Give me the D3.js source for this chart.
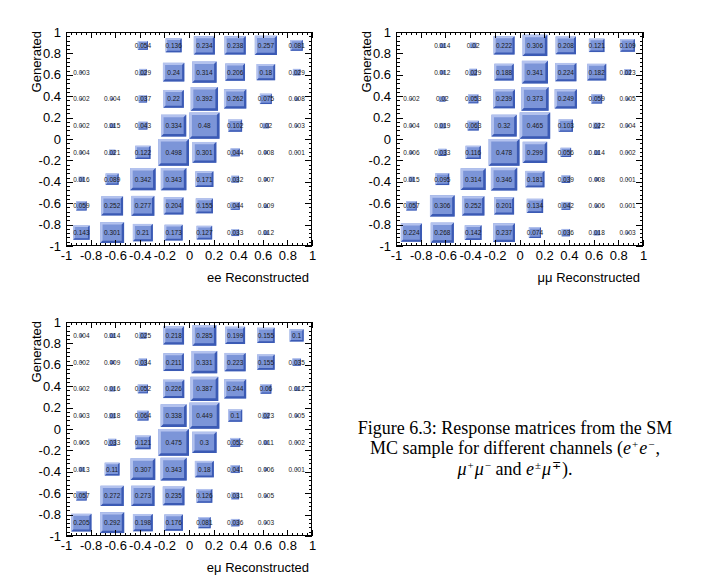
<!DOCTYPE html>
<html><head><meta charset="utf-8">
<script src="https://cdn.jsdelivr.net/npm/d3@7"></script>
<style>
body{margin:0;background:#fff;}
svg{display:block;}
</style></head>
<body>
<svg id="chart" width="717" height="584"></svg>
<script>
// Bin edges (both axes) and tick labels
const binEdges = [-1, -0.75, -0.5, -0.25, 0, 0.25, 0.5, 0.75, 1];
const majorTicks = [-1, -0.8, -0.6, -0.4, -0.2, 0, 0.2, 0.4, 0.6, 0.8, 1];
const tickLabels = ["-1", "-0.8", "-0.6", "-0.4", "-0.2", "0", "0.2", "0.4", "0.6", "0.8", "1"];
const channels = ["ee", "\u03bc\u03bc", "e\u03bc"];

// Rows: generated bin from top (0.75..1) to bottom (-1..-0.75); columns: reconstructed bins left to right
const eeValues = [
  [null, null, 0.054, 0.136, 0.234, 0.238, 0.257, 0.081],
  [0.003, null, 0.029, 0.24, 0.314, 0.206, 0.18, 0.029],
  [0.002, 0.004, 0.037, 0.22, 0.392, 0.262, 0.075, 0.008],
  [0.002, 0.015, 0.043, 0.334, 0.48, 0.102, 0.02, 0.003],
  [0.004, 0.021, 0.122, 0.498, 0.301, 0.044, 0.008, 0.001],
  [0.016, 0.089, 0.342, 0.343, 0.171, 0.032, 0.007, null],
  [0.059, 0.252, 0.277, 0.204, 0.155, 0.044, 0.009, null],
  [0.143, 0.301, 0.21, 0.173, 0.127, 0.033, 0.012, null]
];
const mumuValues = [
  [null, 0.014, 0.02, 0.222, 0.306, 0.208, 0.121, 0.109],
  [null, 0.012, 0.029, 0.188, 0.341, 0.224, 0.182, 0.023],
  [0.002, 0.02, 0.053, 0.239, 0.373, 0.249, 0.059, 0.005],
  [0.004, 0.019, 0.063, 0.32, 0.465, 0.103, 0.022, 0.004],
  [0.006, 0.033, 0.116, 0.478, 0.299, 0.056, 0.014, 0.002],
  [0.015, 0.095, 0.314, 0.346, 0.181, 0.039, 0.008, 0.001],
  [0.057, 0.306, 0.252, 0.201, 0.134, 0.042, 0.006, 0.001],
  [0.224, 0.268, 0.142, 0.237, 0.074, 0.036, 0.018, 0.003]
];
const emuValues = [
  [0.004, 0.014, 0.025, 0.218, 0.285, 0.199, 0.155, 0.1],
  [0.002, 0.009, 0.034, 0.211, 0.331, 0.223, 0.155, 0.035],
  [0.002, 0.016, 0.052, 0.226, 0.387, 0.244, 0.06, 0.012],
  [0.003, 0.018, 0.064, 0.338, 0.449, 0.1, 0.023, 0.005],
  [0.005, 0.033, 0.121, 0.475, 0.3, 0.052, 0.011, 0.002],
  [0.013, 0.11, 0.307, 0.343, 0.18, 0.041, 0.006, 0.001],
  [0.057, 0.272, 0.273, 0.235, 0.126, 0.031, 0.005, null],
  [0.205, 0.292, 0.198, 0.176, 0.081, 0.036, 0.003, null]
];

const panels = [
  {name: channels[0], values: eeValues, left: 66, right: 312, top: 32, bottom: 246},
  {name: channels[1], values: mumuValues, left: 396, right: 643, top: 32, bottom: 246},
  {name: channels[2], values: emuValues, left: 66, right: 312, top: 322, bottom: 536}
];

const FILL = "#7c95d8", LIGHT = "#b3c2ee", DARK = "#3b5ab4";
const svg = d3.select("#chart");
svg.append("rect").attr("width", 717).attr("height", 584).attr("fill", "#fff");

const minorTicks = d3.range(0, 51).map(i => -1 + i * 0.04);
const fontAxis = "'Liberation Sans', Arial, sans-serif";

panels.forEach(p => {
  const x = d3.scaleLinear().domain([-1, 1]).range([p.left, p.right]);
  const y = d3.scaleLinear().domain([-1, 1]).range([p.bottom, p.top]);
  const g = svg.append("g");
  const vmax = d3.max(p.values.flat().filter(v => v != null));

  // boxes
  const cells = [];
  p.values.forEach((row, r) => {
    row.forEach((v, c) => {
      if (v == null) return;
      const x0 = binEdges[c], x1 = binEdges[c + 1];
      const yTop = binEdges[8 - r], yBot = binEdges[7 - r];
      cells.push({v, cx: (x(x0) + x(x1)) / 2, cy: (y(yTop) + y(yBot)) / 2,
                  bw: x(x1) - x(x0), bh: y(yBot) - y(yTop)});
    });
  });
  const boxG = g.append("g");
  cells.forEach(d => {
    const f = Math.sqrt(d.v / vmax);
    const w = d.bw * f, h = d.bh * f;
    if (w < 1) return;
    const x0 = d.cx - w / 2, y0 = d.cy - h / 2, x1 = x0 + w, y1 = y0 + h;
    const b = Math.max(0.6, Math.min(2.6, w * 0.1));
    boxG.append("rect").attr("x", x0).attr("y", y0).attr("width", w).attr("height", h).attr("fill", FILL);
    boxG.append("polygon").attr("fill", LIGHT)
      .attr("points", [[x0, y0], [x1, y0], [x1 - b, y0 + b], [x0 + b, y0 + b], [x0 + b, y1 - b], [x0, y1]].join(" "));
    boxG.append("polygon").attr("fill", DARK)
      .attr("points", [[x1, y0], [x1, y1], [x0, y1], [x0 + b, y1 - b], [x1 - b, y1 - b], [x1 - b, y0 + b]].join(" "));
  });
  // cell labels
  g.append("g").selectAll("text").data(cells).join("text")
    .attr("x", d => d.cx).attr("y", d => d.cy)
    .attr("text-anchor", "middle").attr("dominant-baseline", "central")
    .attr("font-family", fontAxis).attr("font-size", 6.5).attr("fill", "#1a1a1a")
    .text(d => String(d.v));

  // frame
  g.append("rect").attr("x", p.left + 0.5).attr("y", p.top + 0.5)
    .attr("width", p.right - p.left - 1).attr("height", p.bottom - p.top - 1)
    .attr("fill", "none").attr("stroke", "#000").attr("stroke-width", 1);

  const styleAxis = sel => {
    sel.select(".domain").remove();
    sel.selectAll("line").attr("stroke", "#000").attr("stroke-width", 1).attr("shape-rendering", "crispEdges");
    sel.selectAll("text").attr("font-family", fontAxis).attr("font-size", 13).attr("fill", "#000");
  };
  const fmt = v => tickLabels[majorTicks.findIndex(t => Math.abs(t - v) < 1e-9)];

  // bottom axis (labels) + minor
  g.append("g").attr("transform", `translate(0,${p.bottom})`)
    .call(d3.axisBottom(x).tickValues(majorTicks).tickSize(-6).tickPadding(5).tickFormat(fmt)).call(styleAxis);
  g.append("g").attr("transform", `translate(0,${p.bottom})`)
    .call(d3.axisBottom(x).tickValues(minorTicks).tickSize(-3).tickFormat("")).call(styleAxis);
  // top axis (ticks only)
  g.append("g").attr("transform", `translate(0,${p.top})`)
    .call(d3.axisTop(x).tickValues(majorTicks).tickSize(-6).tickFormat("")).call(styleAxis);
  g.append("g").attr("transform", `translate(0,${p.top})`)
    .call(d3.axisTop(x).tickValues(minorTicks).tickSize(-3).tickFormat("")).call(styleAxis);
  // left axis (labels)
  g.append("g").attr("transform", `translate(${p.left},0)`)
    .call(d3.axisLeft(y).tickValues(majorTicks).tickSize(-7).tickPadding(5).tickFormat(fmt)).call(styleAxis);
  g.append("g").attr("transform", `translate(${p.left},0)`)
    .call(d3.axisLeft(y).tickValues(minorTicks).tickSize(-3.5).tickFormat("")).call(styleAxis);
  // right axis (ticks only)
  g.append("g").attr("transform", `translate(${p.right},0)`)
    .call(d3.axisRight(y).tickValues(majorTicks).tickSize(-7).tickFormat("")).call(styleAxis);
  g.append("g").attr("transform", `translate(${p.right},0)`)
    .call(d3.axisRight(y).tickValues(minorTicks).tickSize(-3.5).tickFormat("")).call(styleAxis);

  // axis titles
  g.append("text").attr("x", p.right - 3).attr("y", p.bottom + 36)
    .attr("text-anchor", "end").attr("font-family", fontAxis).attr("font-size", 13)
    .text(p.name + " Reconstructed");
  g.append("text").attr("transform", `translate(${p.left - 25},${p.top - 1}) rotate(-90)`)
    .attr("text-anchor", "end").attr("font-family", fontAxis).attr("font-size", 13)
    .text("Generated");
});

// caption
const cap = svg.append("text").attr("font-family", "'Liberation Serif', 'Times New Roman', serif")
  .attr("font-size", 18).attr("text-anchor", "middle").attr("fill", "#000");
const capX = 515;
cap.append("tspan").attr("x", capX).attr("y", 434).text("Figure 6.3: Response matrices from the SM");
const sup = (parent, s) => parent.append("tspan").attr("font-size", 11).attr("dx", 1).attr("dy", -6).text(s);
const l2 = cap.append("tspan").attr("x", capX).attr("y", 454);
l2.append("tspan").text("MC sample for different channels (");
l2.append("tspan").attr("font-style", "italic").text("e");
sup(l2, "+");
l2.append("tspan").attr("font-style", "italic").attr("dx", 1).attr("dy", 6).text("e");
sup(l2, "\u2212");
l2.append("tspan").attr("dx", 1).attr("dy", 6).text(",");
const l3 = cap.append("tspan").attr("x", capX).attr("y", 475);
l3.append("tspan").attr("font-style", "italic").text("\u03bc");
sup(l3, "+");
l3.append("tspan").attr("font-style", "italic").attr("dx", 1).attr("dy", 6).text("\u03bc");
sup(l3, "\u2212");
l3.append("tspan").attr("dy", 6).text(" and ");
l3.append("tspan").attr("font-style", "italic").text("e");
sup(l3, "\u00b1");
l3.append("tspan").attr("font-style", "italic").attr("dx", 1).attr("dy", 6).text("\u03bc");
sup(l3, "\u2213");
l3.append("tspan").attr("dx", 1).attr("dy", 6).text(").");
</script>
</body></html>
